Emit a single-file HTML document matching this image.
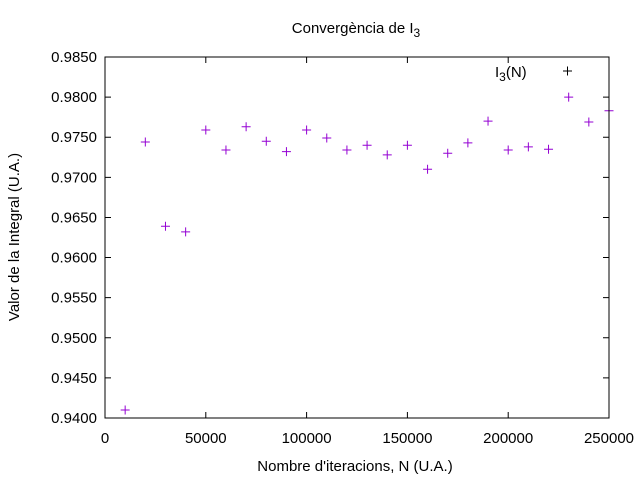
<!DOCTYPE html>
<html><head><meta charset="utf-8"><style>
body{margin:0;background:#fff}
svg{display:block;font-family:"Liberation Sans",sans-serif}
</style></head><body>
<svg id="chart" width="640" height="480" viewBox="0 0 640 480">
<text x="356" y="33" font-size="15" text-anchor="middle">Convergència de I<tspan font-size="12" dy="4">3</tspan></text>
<text transform="translate(19,237) rotate(-90)" font-size="15" text-anchor="middle">Valor de la Integral (U.A.)</text>
<text x="355" y="471" font-size="15" text-anchor="middle">Nombre d'iteracions, N (U.A.)</text>
<g id="axes"></g>
<g id="marks"></g>
<g>
<text x="495" y="77" font-size="15">I<tspan font-size="12" dy="4">3</tspan><tspan dy="-4">(N)</tspan></text>
<path d="M563 71h9M567.5 66.5v9" stroke="#000" stroke-width="1"/>
</g>
<rect x="105" y="57" width="504" height="361" fill="none" stroke="#000" stroke-width="1"/>
</svg>
<script>
const nValues=[10000,20000,30000,40000,50000,60000,70000,80000,90000,100000,110000,120000,130000,140000,150000,160000,170000,180000,190000,200000,210000,220000,230000,240000,250000];
const integralValues=[0.9410,0.9744,0.9639,0.9632,0.9759,0.9734,0.9763,0.9745,0.9732,0.9759,0.9749,0.9734,0.9740,0.9728,0.9740,0.9710,0.9730,0.9743,0.9770,0.9734,0.9738,0.9735,0.9800,0.9769,0.9783];
const xTicks=[0,50000,100000,150000,200000,250000];
const yTicks=[0.9400,0.9450,0.9500,0.9550,0.9600,0.9650,0.9700,0.9750,0.9800,0.9850];
const NS="http://www.w3.org/2000/svg";
const L=105,R=609,T=57,B=418;
function xs(v){return L+(v-0)/(250000)*(R-L);}
function ys(v){return B-(v-0.94)/(0.045)*(B-T);}
const axes=document.getElementById('axes');
const marks=document.getElementById('marks');
function mk(tag,attrs,parent){const e=document.createElementNS(NS,tag);for(const k in attrs)e.setAttribute(k,attrs[k]);parent.appendChild(e);return e;}
xTicks.forEach(v=>{
const x=xs(v);
const t=mk('path',{d:`M${x} ${B}v-6M${x} ${T}v6`,stroke:'#000'},axes);


const l=mk('text',{x:x,y:443,'font-size':15,'text-anchor':'middle'},axes);
l.textContent=String(v);


});
yTicks.forEach(v=>{
const y=ys(v);
const t=mk('path',{d:`M${L} ${y}h6M${R} ${y}h-6`,stroke:'#000'},axes);


const l=mk('text',{x:97,y:y+5,'font-size':15,'text-anchor':'end'},axes);
l.textContent=v.toFixed(4);


});
nValues.forEach((n,i)=>{
const x=xs(n),y=ys(integralValues[i]);
const p=mk('path',{d:`M${x-4.5} ${y}h9M${x} ${y-4.5}v9`,stroke:'#9400d3','stroke-width':1},marks);


});
</script>
</body></html>
